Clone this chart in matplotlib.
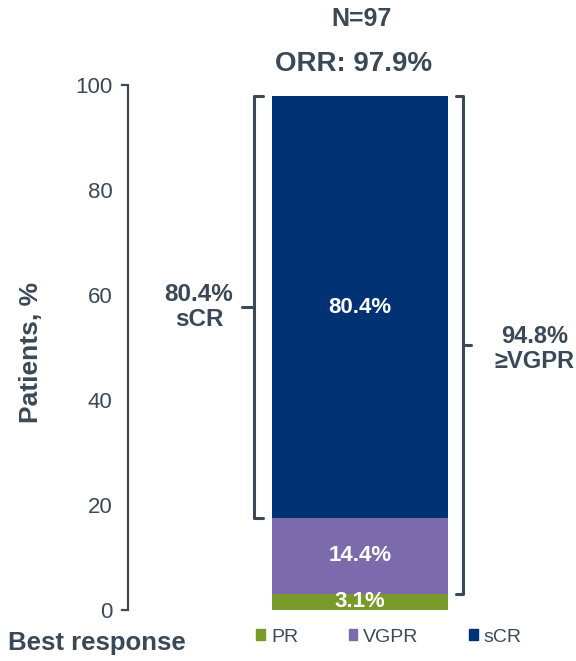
import matplotlib.pyplot as plt
from matplotlib.patches import Patch

plt.rcParams['font.family'] = ['Liberation Sans', 'DejaVu Sans']

# best response breakdown, % of patients (N=97)
responses = ['PR', 'VGPR', 'sCR']
values = [3.1, 14.4, 80.4]
colors = ['#789A2A', '#7B6BAD', '#003274']
n_patients = 97
orr = 97.9
vgpr_or_better = 94.8
yticks = [0, 20, 40, 60, 80, 100]

ink = '#3B4858'

fig = plt.figure(figsize=(5.76, 6.61), dpi=100)
ax = fig.add_axes([128 / 576, 51 / 661, 448 / 576, 525 / 661])

# stacked single bar
bottom = 0
for resp, val, col in zip(responses, values, colors):
    ax.bar(0, val, width=1.0, bottom=bottom, color=col, label=resp)
    ax.text(0, bottom + val / 2, f'{val}%', ha='center', va='center',
            color='white', fontsize=16, fontweight='bold', clip_on=True)
    bottom += val

ax.set_xlim(-1.318, 1.227)
ax.set_ylim(0, 100)

# y axis drawn as a line with short hooks at 0 and 100
for s in ax.spines.values():
    s.set_visible(False)
ytr = ax.get_yaxis_transform()
ax.plot([-0.014, 0, 0, -0.014], [100, 100, 0, 0], color=ink, lw=1.6,
        transform=ytr, clip_on=False, solid_joinstyle='miter')
ax.set_xticks([])
ax.set_yticks(yticks)
ax.tick_params(axis='y', length=0, pad=11, labelsize=16, labelcolor=ink)


def bracket(x, lo, hi, hook, tip):
    mid = (lo + hi) / 2
    ax.plot([x + hook, x, x, x + hook], [hi, hi, lo, lo], color=ink, lw=2.2,
            solid_joinstyle='round', solid_capstyle='round', clip_on=False)
    ax.plot([x, x + tip], [mid, mid], color=ink, lw=2.2,
            solid_capstyle='round', clip_on=False)
    return mid


top = sum(values)
scr_lo = values[0] + values[1]
mid_l = bracket(-0.602, scr_lo, top, 0.05, -0.068)
ax.text(-0.915, mid_l, f'{values[2]}%\nsCR', ha='center', va='center',
        color=ink, fontsize=17.5, fontweight='bold', linespacing=1.1)

mid_r = bracket(0.585, values[0], top, -0.04, 0.045)
ax.text(0.99, mid_r - 0.8, f'{vgpr_or_better}%\n≥VGPR', ha='center', va='center',
        color=ink, fontsize=17, fontweight='bold', linespacing=1.1)

# header above the bar
fig.text(362 / 576, 1 - 19 / 661, f'N={n_patients}', ha='center', va='center',
         color=ink, fontsize=18, fontweight='bold')
fig.text(354 / 576, 1 - 64 / 661, f'ORR: {orr}%', ha='center', va='center',
         color=ink, fontsize=20, fontweight='bold')

fig.text(31 / 576, 1 - 352 / 661, 'Patients, %', rotation=90, ha='center',
         va='center', color=ink, fontsize=19, fontweight='bold')
fig.text(8 / 576, 1 - 643 / 661, 'Best response', ha='left', va='center',
         color=ink, fontsize=18.5, fontweight='bold')

handles = [Patch(color=c) for c in colors]
fig.legend(handles, responses, ncol=3, loc='center',
           bbox_to_anchor=(389 / 576, 1 - 637 / 661), frameon=False,
           fontsize=14, handlelength=0.45, handleheight=0.45,
           handletextpad=0.3, columnspacing=2.6, labelcolor=ink)

fig.savefig('out.png', dpi=100)
